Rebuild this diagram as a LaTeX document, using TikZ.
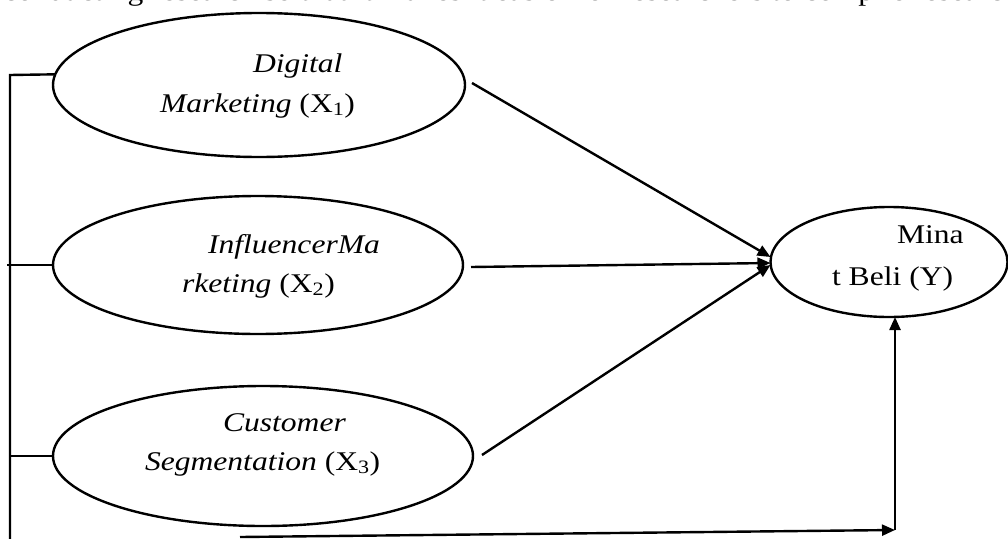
\documentclass[tikz,border=0pt]{standalone}
\usepackage{fontspec}
\setmainfont[FakeStretch=1.17]{Liberation Serif}
\usetikzlibrary{shapes.geometric,arrows.meta}
\begin{document}
\begin{tikzpicture}[x=1pt,y=1pt,
  oval/.style={ellipse,draw=black,line width=2.4pt,inner sep=0pt,outer sep=0pt},
  lbl/.style={anchor=base west,inner sep=0pt,outer sep=0pt,font=\fontsize{27}{39}\selectfont},
  conn/.style={line width=2.4pt},
  arr/.style={line width=2.4pt,-{Triangle[length=13pt,width=11pt]}}]
\useasboundingbox (0,0) rectangle (1008,-538);
\clip (0,0) rectangle (1008,-538);
% cut-off text line at top
\node[lbl] (top) at (3,-1) {conducting research so that it makes it easier for researchers to compile research};
% ellipses
\node[oval,minimum width=412pt,minimum height=144pt] (e1) at (259,-85) {};
\node[oval,minimum width=410pt,minimum height=138pt] (e2) at (258,-265) {};
\node[oval,minimum width=420pt,minimum height=140pt] (e3) at (263,-456) {};
\node[oval,minimum width=237pt,minimum height=110pt] (ey) at (889,-262) {};
% labels
\node[lbl] (t1a) at (253,-72) {\textit{Digital}};
\node[lbl] (t1b) at (160,-112) {\textit{Marketing} (X\textsubscript{1})};
\node[lbl] (t2a) at (208,-253) {\textit{InfluencerMa}};
\node[lbl] (t2b) at (182,-292) {\textit{rketing} (X\textsubscript{2})};
\node[lbl] (t3a) at (223,-431) {\textit{Customer}};
\node[lbl] (t3b) at (145,-470) {\textit{Segmentation} (X\textsubscript{3})};
\node[lbl] (tya) at (897,-243) {Mina};
\node[lbl] (tyb) at (832,-285) {t Beli (Y)};
% left bracket
\coordinate (Ltop) at (10,-75);
\coordinate (Lbot) at (10,-545);
\coordinate (L2) at (7,-265);
\coordinate (L3) at (10,-456);
\coordinate (B0) at (240,-537);
\coordinate (B1) at (895,-530);
\draw[conn] (Lbot) -- (Ltop) -- (e1.177);
\draw[conn] (L2) -- (e2.west);
\draw[conn] (L3) -- (e3.west);
% arrows to Y
\draw[arr] ([shift={(7pt,2pt)}]e1.east) -- ([yshift=5pt]ey.west);
\draw[arr] ([xshift=8pt,yshift=-2pt]e2.east) -- ([yshift=-1pt]ey.west);
\draw[arr] ([xshift=9pt,yshift=1pt]e3.east) -- ([yshift=-3pt]ey.west);
% bottom arrow
\draw[arr] (B0) -- (B1);
\draw[arr] (B1) -- (ey.south -| B1);
\end{tikzpicture}
\end{document}
